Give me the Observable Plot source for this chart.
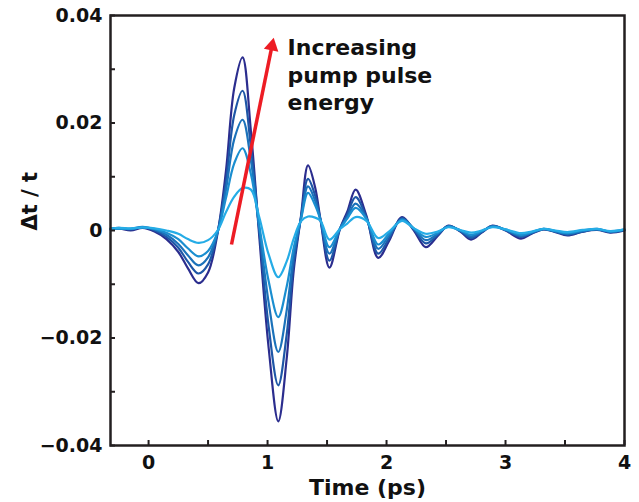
<!DOCTYPE html>
<html>
<head>
<meta charset="utf-8">
<script src="https://cdn.jsdelivr.net/npm/d3@7"></script>
<script src="https://cdn.jsdelivr.net/npm/@observablehq/plot@0.6"></script>
<style>
  html, body { margin: 0; padding: 0; background: #fff; }
</style>
</head>
<body>
<div id="chart"></div>
<script>
// Time axis (ps)
const time = [-0.32,-0.25,-0.15,-0.05,0.05,0.15,0.25,0.33,0.42,0.50,0.58,0.65,0.72,0.79,0.86,0.93,1.01,1.09,1.16,1.22,1.28,1.34,1.40,1.445,1.52,1.61,1.67,1.74,1.83,1.93,2.02,2.13,2.23,2.33,2.43,2.52,2.62,2.71,2.80,2.89,3.00,3.13,3.22,3.32,3.42,3.52,3.65,3.77,3.88,4.00];

// Δt/t values, in units of 1e-3, highest pump energy first
const energy5 = [0.2,0.4,0.0,0.5,-0.2,-1.6,-4.0,-7.0,-9.8,-7.8,-0.5,11.0,26.5,32.2,18.5,-1.0,-22.0,-35.5,-24.0,-7.4,2.5,12.1,8.0,2.0,-6.9,0.4,3.5,7.6,2.8,-5.1,-2.0,2.5,0.0,-3.1,-1.0,0.9,-0.2,-1.7,-0.4,0.9,0.0,-1.5,-0.6,0.2,-0.3,-0.9,-0.2,0.1,-0.4,0.0];
const energy4 = [0.3,0.5,0.2,0.6,0.0,-1.2,-3.2,-5.8,-8.0,-6.3,-0.3,9.0,21.5,26.0,15.5,0.0,-18.0,-28.8,-19.5,-6.0,2.3,9.6,6.5,2.0,-5.6,0.4,3.0,6.2,2.5,-4.3,-1.5,2.3,0.2,-2.4,-0.8,0.8,-0.1,-1.4,-0.3,0.8,0.1,-1.2,-0.5,0.2,-0.2,-0.8,-0.2,0.2,-0.3,0.1];
const energy3 = [0.2,0.4,0.3,0.7,0.2,-0.8,-2.5,-4.6,-6.5,-5.0,-0.3,7.5,17.0,20.6,13.0,0.5,-13.5,-22.6,-15.0,-4.5,2.1,8.2,5.5,2.0,-4.3,0.4,2.5,5.0,2.3,-3.4,-1.0,2.1,0.3,-1.8,-0.6,0.8,0.0,-1.1,-0.2,0.8,0.1,-1.0,-0.4,0.3,-0.2,-0.6,-0.1,0.3,-0.2,0.1];
const energy2 = [0.4,0.3,0.3,0.6,0.3,-0.4,-1.6,-3.3,-4.8,-3.8,-0.3,6.0,12.5,15.3,10.5,1.0,-9.5,-16.1,-10.5,-3.2,2.0,7.0,4.7,2.0,-3.1,0.4,2.2,4.2,2.2,-2.6,-0.6,2.0,0.4,-1.2,-0.4,0.7,0.0,-0.8,-0.1,0.7,0.2,-0.8,-0.3,0.3,-0.1,-0.5,0.0,0.2,-0.2,0.2];
const energy1 = [0.3,0.5,0.4,0.6,0.4,0.0,-0.6,-1.6,-2.3,-1.8,0.0,3.4,6.3,7.9,7.6,2.5,-4.5,-8.7,-5.8,-1.5,1.7,2.6,2.4,1.8,-1.7,0.3,1.3,2.5,1.8,-1.4,-0.2,1.8,0.4,-0.6,-0.2,0.6,0.1,-0.4,0.0,0.6,0.2,-0.5,-0.2,0.3,0.0,-0.3,0.1,0.3,-0.1,0.2];

const seriesNames = ["E5", "E4", "E3", "E2", "E1"];
const seriesValues = [energy5, energy4, energy3, energy2, energy1];
const seriesColors = ["#2b2d8e", "#1e56a6", "#1b72ba", "#1a8ed0", "#25ace6"];

// Axis ticks
const yTicks = [-0.04,-0.03,-0.02,-0.01,0,0.01,0.02,0.03,0.04];
const yLabels = [-0.04,-0.02,0,0.02,0.04];
const xTicks = [0,0.5,1,1.5,2,2.5,3,3.5,4];
const xLabels = [0,1,2,3,4];

// Annotation: arrow shaft (start -> base of head) and arrow head
const arrowShaft = [{x1: 0.697, y1: -0.0026, x2: 1.037, y2: 0.0343}];
const arrowHead = [{t: 1.037, v: 0.0343, angle: 11.7}];
const noteData = [{t: 1.168, v: 0.0362, label: "Increasing\npump pulse\nenergy"}];

const rows = [];
seriesNames.forEach((name, i) => {
  time.forEach((t, j) => rows.push({t, v: seriesValues[i][j] * 1e-3, s: name}));
});

const fmtY = d => d === 0 ? "0" : (d < 0 ? "\u2212" : "") + Math.abs(d).toFixed(2);

const lineMarks = seriesNames.map((name, i) =>
  Plot.line(rows.filter(r => r.s === name), {
    x: "t", y: "v", stroke: seriesColors[i], strokeWidth: 2.2, curve: "catmull-rom"
  })
);

const chart = Plot.plot({
  width: 639,
  height: 502,
  marginLeft: 110,
  marginRight: 15,
  marginTop: 15,
  marginBottom: 57,
  x: {domain: [-0.32, 4]},
  y: {domain: [-0.04, 0.04]},
  style: {fontFamily: "DejaVu Sans", fontWeight: "bold", fontSize: "19px", color: "#111", background: "#fff"},
  marks: [
    ...lineMarks,
    Plot.link(arrowShaft, {x1: "x1", y1: "y1", x2: "x2", y2: "y2", stroke: "#ed1c24", strokeWidth: 3.5}),
    Plot.dot(arrowHead, {x: "t", y: "v", symbol: "triangle", r: 5.5, rotate: "angle", fill: "#ed1c24", stroke: "none"}),
    Plot.text(noteData, {x: "t", y: "v", text: "label", textAnchor: "start", lineAnchor: "top", fontSize: 22, lineHeight: 1.25, fill: "#111"}),
    Plot.frame({stroke: "#231f20", strokeWidth: 2.5}),
    Plot.axisY(yTicks, {anchor: "left", tickSize: -5, tickFormat: () => "", label: null, stroke: "#231f20", strokeWidth: 2}),
    Plot.axisY(yLabels, {anchor: "left", tickSize: 0, tickPadding: 8, tickFormat: fmtY, label: null, fill: "#111"}),
    Plot.axisX(xTicks, {anchor: "bottom", tickSize: -5, tickFormat: () => "", label: null, stroke: "#231f20", strokeWidth: 2}),
    Plot.axisX(xLabels, {anchor: "bottom", tickSize: 0, tickPadding: 10, tickFormat: d => String(d), label: null, fill: "#111"}),
    Plot.text(["\u0394t / t"], {frameAnchor: "left", rotate: -90, dx: -80, fontSize: 21, fill: "#111"}),
    Plot.text(["Time (ps)"], {frameAnchor: "bottom", dy: 49, fontSize: 22, fill: "#111"})
  ]
});
document.getElementById("chart").appendChild(chart);
</script>
</body>
</html>
